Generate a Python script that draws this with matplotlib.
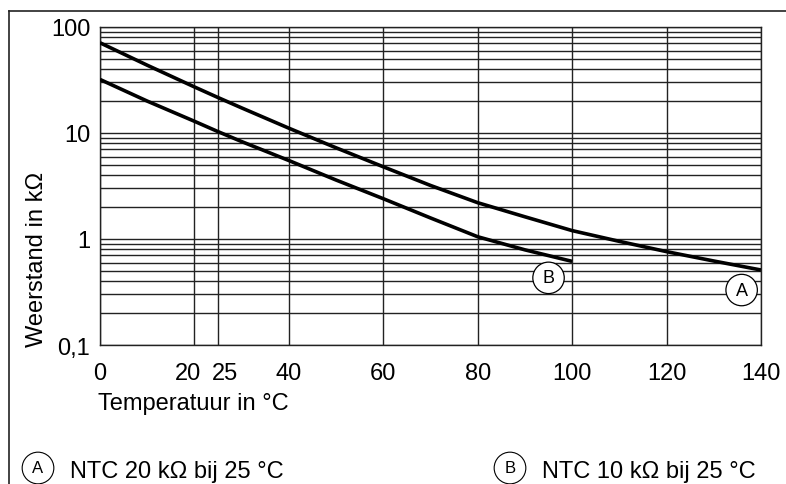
import numpy as np
import matplotlib
matplotlib.use("Agg")
import matplotlib.pyplot as plt
from matplotlib.lines import Line2D
from matplotlib.ticker import FixedLocator, NullFormatter
from matplotlib.transforms import ScaledTranslation

plt.rcParams['font.family'] = ['Liberation Sans', 'DejaVu Sans']

# Gegevens
temp_a = [0, 10, 20, 25, 30, 40, 50, 60, 70, 80, 90, 100, 110, 120, 130, 140]
weerstand_a = [71, 43.6, 27.2, 21.6, 17.25, 11.1, 7.25, 4.8, 3.2, 2.2, 1.62, 1.2, 0.95, 0.76, 0.62, 0.51]

temp_b = [0, 10, 20, 25, 30, 40, 50, 60, 70, 80, 90, 100]
weerstand_b = [32, 20, 12.9, 10.3, 8.3, 5.5, 3.6, 2.4, 1.58, 1.05, 0.79, 0.615]

x_ticks = [0, 20, 25, 40, 60, 80, 100, 120, 140]
y_ticks = [0.1, 1, 10, 100]
y_tick_labels = ['0,1', '1', '10', '100']

legend_a = "NTC 20 kΩ bij 25 °C"
legend_b = "NTC 10 kΩ bij 25 °C"

W, H = 786, 485
fig = plt.figure(figsize=(W / 100, H / 100), dpi=100)
ax = fig.add_axes([100 / W, 1 - 346 / H, 661 / W, 318 / H])

grid_kw = dict(color='#222222', linewidth=1.0)

ax.set_yscale('log')
ax.set_xlim(0, 140)
ax.set_ylim(0.1, 100)

# raster
minor = [m * 10.0 ** e for e in (-1, 0, 1) for m in range(2, 10)]
ax.yaxis.set_minor_locator(FixedLocator(minor))
ax.yaxis.set_minor_formatter(NullFormatter())
ax.set_yticks(y_ticks)
ax.set_yticklabels(y_tick_labels)
ax.set_xticks(x_ticks)
ax.set_xticklabels([str(t) for t in x_ticks])
ax.grid(True, which='both', axis='y', **grid_kw)
ax.grid(True, which='major', axis='x', **grid_kw)
ax.tick_params(which='both', length=0)
ax.tick_params(axis='y', pad=7, labelsize=17)
ax.tick_params(axis='x', pad=12, labelsize=17)
for s in ax.spines.values():
    s.set_color('#222222')
    s.set_linewidth(1.0)

# labels 20 en 25 iets uit elkaar schuiven
for lab in ax.get_xticklabels():
    dx = {'20': -6, '25': 7}.get(lab.get_text(), 0)
    if dx:
        lab.set_transform(lab.get_transform() + ScaledTranslation(dx / 100, 0, fig.dpi_scale_trans))

# curves
ax.plot(temp_a, weerstand_a, color='black', linewidth=2.6, solid_capstyle='butt', zorder=3)
ax.plot(temp_b, weerstand_b, color='black', linewidth=2.6, solid_capstyle='butt', zorder=3)

circ = dict(boxstyle='circle,pad=0.4', fc='white', ec='black', lw=0.9)
ax.text(95, 0.43, 'B', fontsize=13, ha='center', va='center', bbox=circ, zorder=4)
ax.text(135.9, 0.33, 'A', fontsize=13, ha='center', va='center', bbox=circ, zorder=4)

# aslabels
fig.text(98 / W, 1 - 410 / H, "Temperatuur in °C", fontsize=17, ha='left', va='baseline')
fig.text(37 / W, 1 - 347 / H, "Weerstand in kΩ", fontsize=17, rotation=90,
         ha='center', va='bottom')

# legenda onderaan
circ2 = dict(boxstyle='circle,pad=0.5', fc='white', ec='black', lw=0.8)
fig.text(38 / W, 1 - 469 / H, 'A', fontsize=12, ha='center', va='center', bbox=circ2)
fig.text(70 / W, 1 - 478 / H, legend_a, fontsize=17, ha='left', va='baseline')
fig.text(510 / W, 1 - 469 / H, 'B', fontsize=12, ha='center', va='center', bbox=circ2)
fig.text(542 / W, 1 - 478 / H, legend_b, fontsize=17, ha='left', va='baseline')

# kader
fig.add_artist(Line2D([9 / W, 9 / W], [0, 1 - 12 / H], color='#222222', linewidth=1.2))
fig.add_artist(Line2D([9 / W, 1], [1 - 12 / H, 1 - 12 / H], color='#222222', linewidth=1.2))

fig.savefig('out.png', dpi=100)
